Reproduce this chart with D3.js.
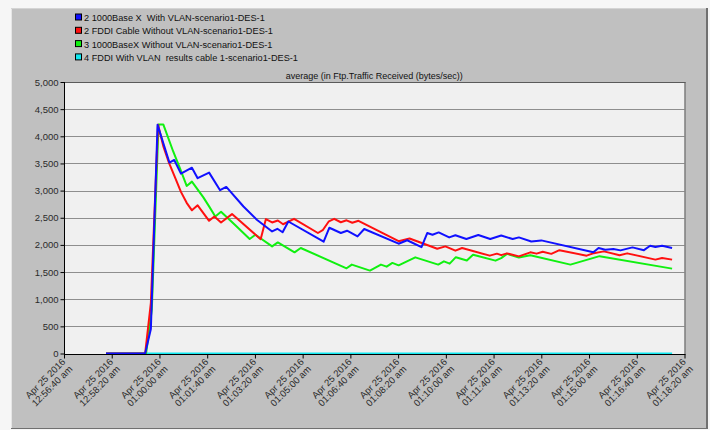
<!DOCTYPE html>
<html>
<head>
<meta charset="utf-8">
<script src="https://cdn.jsdelivr.net/npm/d3@7"></script>
<style>
  html, body { margin: 0; padding: 0; background: #f6f6f6; }
  svg { display: block; font-family: "Liberation Sans", Arial, sans-serif; }
  .keep-spaces { white-space: pre; }
</style>
</head>
<body>
<svg id="chart" width="710" height="430"></svg>
<script>
// ---- data -------------------------------------------------------------
const seriesNames = [
  "2 1000Base X  With VLAN-scenario1-DES-1",
  "2 FDDI Cable Without VLAN-scenario1-DES-1",
  "3 1000BaseX Without VLAN-scenario1-DES-1",
  "4 FDDI With VLAN  results cable 1-scenario1-DES-1"
];
const seriesColors = ["#1010ff", "#ff1010", "#10f010", "#10e8f0"];

const chartTitle = "average (in Ftp.Traffic Received (bytes/sec))";
const startTime = new Date(2016, 3, 25, 0, 56, 40);   // Apr 25 2016 12:56:40 am

// [seconds after start, bytes/sec]
const vlan1000 = [
  [88,0],[170,0],[182,450],[196,4211],[221,3514],[231,3564],[245,3312],[268,3422],
  [280,3228],[304,3331],[327,3008],[340,3068],[376,2707],[404,2463],[436,2248],
  [447,2297],[458,2233],[470,2431],[544,2059],[556,2316],[580,2219],[593,2261],
  [615,2156],[629,2292],[701,2022],[719,2086],[749,1958],[761,2219],[772,2187],
  [785,2230],[807,2138],[820,2178],[843,2108],[868,2182],[893,2108],[916,2173],
  [940,2108],[953,2138],[979,2064],[1000,2083],[1109,1863],[1120,1943],[1134,1912],
  [1151,1925],[1166,1899],[1191,1954],[1215,1903],[1228,1985],[1239,1962],
  [1253,1985],[1274,1943]
];
const fddiNoVlan = [
  [88,0],[170,0],[182,934],[197,4211],[208,3820],[220,3509],[233,3233],[245,2976],
  [257,2775],[268,2637],[280,2729],[304,2444],[315,2523],[329,2413],[352,2567],
  [412,2105],[423,2475],[436,2413],[448,2450],[459,2380],[482,2481],[532,2219],
  [542,2270],[555,2435],[566,2481],[580,2417],[592,2453],[604,2408],[617,2444],
  [701,2068],[724,2119],[782,1930],[799,1973],[820,1894],[834,1943],[892,1802],
  [907,1839],[916,1811],[928,1844],[953,1789],[977,1863],[990,1839],[1003,1875],
  [1021,1835],[1038,1903],[1095,1802],[1110,1848],[1131,1881],[1164,1811],
  [1180,1844],[1239,1729],[1253,1760],[1274,1729]
];
const noVlan1000 = [
  [88,0],[172,0],[184,811],[198,4219],[208,4219],[229,3716],[243,3411],[257,3086],
  [268,3165],[292,2875],[304,2710],[317,2523],[329,2609],[359,2362],[389,2108],
  [401,2187],[436,1973],[448,2046],[483,1863],[496,1943],[592,1569],[603,1637],
  [641,1527],[664,1637],[676,1600],[688,1668],[701,1624],[736,1771],[784,1637],
  [796,1697],[808,1655],[821,1774],[844,1714],[857,1820],[904,1710],[916,1756],
  [928,1835],[953,1769],[977,1811],[1061,1637],[1122,1793],[1274,1563]
];
const fddiVlan = [
  [88,0],[1274,0]
];
const seriesData = [vlan1000, fddiNoVlan, noVlan1000, fddiVlan];

const yTicks = [0, 500, 1000, 1500, 2000, 2500, 3000, 3500, 4000, 4500, 5000];
const xTickSeconds = [0, 100, 200, 300, 400, 500, 600, 700, 800, 900, 1000, 1100, 1200, 1300];

// ---- layout -----------------------------------------------------------
const svg = d3.select("#chart");
const plot = { left: 64, right: 684.5, top: 82, bottom: 354 };

const toDate = s => new Date(startTime.getTime() + s * 1000);

const x = d3.scaleTime()
  .domain([toDate(0), toDate(1300)])
  .range([plot.left, plot.right]);
const y = d3.scaleLinear()
  .domain([0, 5000])
  .range([plot.bottom - 0.5, plot.top]);

// outer panel
svg.append("rect").attr("x", 11).attr("y", 8).attr("width", 697).attr("height", 421)
  .attr("fill", "#c0c0c0");
svg.append("line").attr("x1", 11.5).attr("x2", 11.5).attr("y1", 8).attr("y2", 429)
  .attr("stroke", "#e6e6e6");
svg.append("line").attr("x1", 11).attr("x2", 708).attr("y1", 8.5).attr("y2", 8.5)
  .attr("stroke", "#d4d4d4");
svg.append("line").attr("x1", 707).attr("x2", 707).attr("y1", 8).attr("y2", 429)
  .attr("stroke", "#707070").attr("stroke-width", 2);
svg.append("line").attr("x1", 11).attr("x2", 708).attr("y1", 428.5).attr("y2", 428.5)
  .attr("stroke", "#707070");

// plot background
svg.append("rect")
  .attr("x", plot.left).attr("y", plot.top)
  .attr("width", plot.right - plot.left).attr("height", plot.bottom - plot.top)
  .attr("fill", "#f0f0f0");

// horizontal grid
svg.append("g").selectAll("line")
  .data(yTicks.filter(v => v > 0 && v < 5000))
  .join("line")
  .attr("x1", plot.left).attr("x2", plot.right)
  .attr("y1", d => Math.round(y(d)) + 0.5).attr("y2", d => Math.round(y(d)) + 0.5)
  .attr("stroke", "#8e8e8e");

// top and right frame
svg.append("line").attr("x1", plot.left).attr("x2", plot.right + 1)
  .attr("y1", plot.top + 0.5).attr("y2", plot.top + 0.5).attr("stroke", "#5a5a5a");
svg.append("line").attr("x1", plot.right + 0.5).attr("x2", plot.right + 0.5)
  .attr("y1", plot.top).attr("y2", plot.bottom + 1).attr("stroke", "#5a5a5a");

// series lines (last legend entry drawn first)
const line = d3.line()
  .x(d => x(toDate(d[0])))
  .y(d => y(d[1]));
const order = [3, 2, 1, 0];
svg.append("g").selectAll("path")
  .data(order)
  .join("path")
  .attr("d", i => line(seriesData[i]))
  .attr("fill", "none")
  .attr("stroke", i => seriesColors[i])
  .attr("stroke-width", 2)
  .attr("stroke-linejoin", "round");

// y axis
const yAxis = svg.append("g")
  .attr("transform", `translate(${plot.left + 0.5},0)`)
  .call(d3.axisLeft(y).tickValues(yTicks).tickFormat(d3.format(",")).tickSize(4).tickPadding(2));
yAxis.select(".domain").attr("stroke", "#000").attr("d", `M0,${plot.top}V${plot.bottom + 1}`);
yAxis.selectAll(".tick line").attr("stroke", "#000");
yAxis.selectAll(".tick text")
  .attr("fill", "#2a2a2a")
  .style("font-size", "9.5px")
  .style("font-family", "'Liberation Sans', Arial, sans-serif");

// x axis
const fmtDate = d3.timeFormat("%b %d %Y");
const fmtClock = d3.timeFormat("%I:%M:%S %p");
const xAxis = svg.append("g")
  .attr("transform", `translate(0,${plot.bottom + 0.5})`)
  .call(d3.axisBottom(x).tickValues(xTickSeconds.map(toDate)).tickSize(4).tickFormat(""));
xAxis.select(".domain").attr("stroke", "#000").attr("d", `M${plot.left},0H${plot.right + 1}`);
xAxis.selectAll(".tick line").attr("stroke", "#000");
xAxis.selectAll(".tick").each(function(d) {
  const g = d3.select(this).append("g").attr("transform", "translate(0,1) rotate(-45)");
  const t = g.append("text")
    .attr("text-anchor", "end")
    .attr("fill", "#2a2a2a")
    .style("font-size", "9.5px")
    .style("font-family", "'Liberation Sans', Arial, sans-serif");
  t.append("tspan").attr("x", -4).attr("y", 6).text(fmtDate(d));
  t.append("tspan").attr("x", -4).attr("y", 16).text(fmtClock(d).toLowerCase());
});

// title
svg.append("text")
  .attr("x", (plot.left + plot.right) / 2).attr("y", 79)
  .attr("text-anchor", "middle")
  .attr("fill", "#111")
  .style("font-size", "9px")
  .text(chartTitle);

// legend
const legend = svg.append("g").selectAll("g")
  .data(seriesNames)
  .join("g")
  .attr("transform", (d, i) => `translate(75,${17.5 + i * 13.3})`);
legend.append("rect")
  .attr("x", 0.5).attr("y", -3.5).attr("width", 6).attr("height", 6)
  .attr("fill", (d, i) => seriesColors[i])
  .attr("stroke", "#000");
legend.append("text")
  .attr("class", "keep-spaces")
  .attr("x", 9).attr("y", 3.5)
  .attr("fill", "#111")
  .style("font-size", "9.2px")
  .text(d => d);
</script>
</body>
</html>
